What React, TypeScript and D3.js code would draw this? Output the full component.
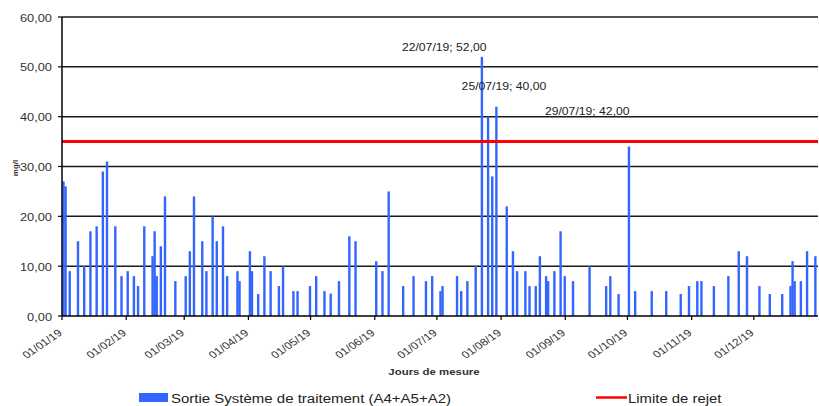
import React from "react";
import * as d3 from "d3";

const dates: string[] = [
  "2019-01-01","2019-01-02","2019-01-04","2019-01-08","2019-01-11","2019-01-14","2019-01-17","2019-01-20","2019-01-22","2019-01-26",
  "2019-01-29","2019-02-01","2019-02-04","2019-02-06","2019-02-09","2019-02-13","2019-02-14","2019-02-15","2019-02-17","2019-02-19",
  "2019-02-24","2019-03-01","2019-03-03","2019-03-05","2019-03-09","2019-03-11","2019-03-14","2019-03-16","2019-03-19","2019-03-21",
  "2019-03-26","2019-03-27","2019-04-01","2019-04-02","2019-04-05","2019-04-08","2019-04-11","2019-04-15","2019-04-17","2019-04-22",
  "2019-04-24","2019-04-30","2019-05-03","2019-05-07","2019-05-10","2019-05-14","2019-05-19","2019-05-22","2019-06-01","2019-06-04",
  "2019-06-07","2019-06-14","2019-06-19","2019-06-25","2019-06-28","2019-07-02","2019-07-03","2019-07-10","2019-07-12","2019-07-15",
  "2019-07-19","2019-07-22","2019-07-25","2019-07-27","2019-07-29","2019-08-03","2019-08-06","2019-08-08","2019-08-12","2019-08-14",
  "2019-08-17","2019-08-19","2019-08-22","2019-08-23","2019-08-26","2019-08-29","2019-08-31","2019-09-04","2019-09-12","2019-09-20",
  "2019-09-22","2019-09-26","2019-10-01","2019-10-04","2019-10-12","2019-10-19","2019-10-26","2019-10-30","2019-11-03","2019-11-05",
  "2019-11-11","2019-11-18","2019-11-23","2019-11-27","2019-12-03","2019-12-08","2019-12-14","2019-12-18","2019-12-19","2019-12-20",
  "2019-12-23","2019-12-26","2019-12-30"
];
const values: number[] = [
  27,26,9,15,10,17,18,29,31,18,
  8,9,8,6,18,12,17,8,14,24,
  7,8,13,24,15,9,20,15,18,8,
  9,7,13,9,4.4,12,9,6,10,5,
  5,6,8,5,4.5,7,16,15,11,9,
  25,6,8,7,8,5,6,8,5,7,
  10,52,40,28,42,22,13,9,9,6,
  6,12,8,7,9,17,8,7,10,6,
  8,4.4,34,5,5,5,4.4,6,7,7,
  6,8,13,12,6,4.4,4.4,6,11,7,
  7,13,12
];
const yTicks: number[] = [0, 10, 20, 30, 40, 50, 60];
const monthTicks: string[] = ["2019-01-01","2019-02-01","2019-03-01","2019-04-01","2019-05-01","2019-06-01","2019-07-01","2019-08-01","2019-09-01","2019-10-01","2019-11-01","2019-12-01"];
const limitValue = 35;
const annotations: { date: string; value: number; label: string }[] = [
  { date: "2019-07-22", value: 52, label: "22/07/19; 52,00" },
  { date: "2019-07-25", value: 40, label: "25/07/19; 40,00" },
  { date: "2019-07-29", value: 42, label: "29/07/19; 42,00" },
];
const seriesName = "Sortie Système de traitement (A4+A5+A2)";
const limitName = "Limite de rejet";

const parse = d3.utcParse("%Y-%m-%d");
const fmtTick = d3.utcFormat("%d/%m/%y");
const fmtNum = (v: number) => d3.format(".2f")(v).replace(".", ",");

export default function App() {
  const W = 819, H = 406;
  const left = 62, right = 818, top = 17, bottom = 316;
  const x = d3.scaleUtc().domain([parse("2019-01-01")!, parse("2020-01-01")!]).range([left, right]);
  const y = d3.scaleLinear().domain([0, 60]).range([bottom, top]);
  const barW = 2.4;
  const sx = 1.22;
  const font = "Liberation Sans, Arial, sans-serif";
  const annOffsets = [{ dx: -80, dy: -6 }, { dx: -26.5, dy: -27 }, { dx: 48.5, dy: 8 }];

  return (
    <svg width={W} height={H} style={{ position: "absolute", left: 0, top: 0, background: "#fff" }} fontFamily={font}>
      {yTicks.filter(t => t > 0).map(t => (
        <line key={"g" + t} x1={left} x2={right} y1={y(t)} y2={y(t)} stroke="#1a1a1a" strokeWidth={1.5} />
      ))}
      {dates.map((d, i) => (
        <rect key={"b" + i} x={x(parse(d)!) + 0.3} y={y(values[i])} width={barW} height={y(0) - y(values[i])} fill="#3366ff" />
      ))}
      <line x1={left} x2={right} y1={y(limitValue)} y2={y(limitValue)} stroke="#ff0000" strokeWidth={3} />
      <line x1={left} x2={left} y1={top} y2={bottom} stroke="#000" strokeWidth={1.5} />
      <line x1={left} x2={right} y1={bottom} y2={bottom} stroke="#000" strokeWidth={1.5} />
      {yTicks.map(t => (
        <g key={"y" + t}>
          <line x1={left - 4} x2={left} y1={y(t)} y2={y(t)} stroke="#000" strokeWidth={1.2} />
          <text transform={`translate(${left - 10},${y(t) + 4.5}) scale(${sx},1)`} textAnchor="end" fontSize={10.5} fill="#333">{fmtNum(t)}</text>
        </g>
      ))}
      {monthTicks.map(m => {
        const px = x(parse(m)!);
        return (
          <g key={"x" + m}>
            <line x1={px} x2={px} y1={bottom} y2={bottom + 4} stroke="#000" strokeWidth={1.2} />
            <text transform={`translate(${px + 1},${bottom + 18}) scale(${sx},1) rotate(-40)`} textAnchor="end" fontSize={10} fill="#333">{fmtTick(parse(m)!)}</text>
          </g>
        );
      })}
      {annotations.map((a, i) => (
        <text key={"a" + i} transform={`translate(${x(parse(a.date)!) + 1.5 + annOffsets[i].dx},${y(a.value) + annOffsets[i].dy}) scale(${sx},1)`} textAnchor="start" fontSize={10} fill="#222">{a.label}</text>
      ))}
      <text transform={`translate(18,168) rotate(-90)`} textAnchor="middle" fontSize={8} fontWeight="bold" fill="#333">mg/l</text>
      <text transform={`translate(434,375) scale(1.27,1)`} textAnchor="middle" fontSize={9} fontWeight="bold" fill="#333">Jours de mesure</text>
      <rect x={139} y={393} width={29} height={9} fill="#3366ff" />
      <text transform={`translate(171,403) scale(1.25,1)`} fontSize={12} fill="#222">{seriesName}</text>
      <line x1={596} x2={627} y1={397.5} y2={397.5} stroke="#ff0000" strokeWidth={2.5} />
      <text transform={`translate(628,403) scale(1.24,1)`} fontSize={12} fill="#222">{limitName}</text>
    </svg>
  );
}
